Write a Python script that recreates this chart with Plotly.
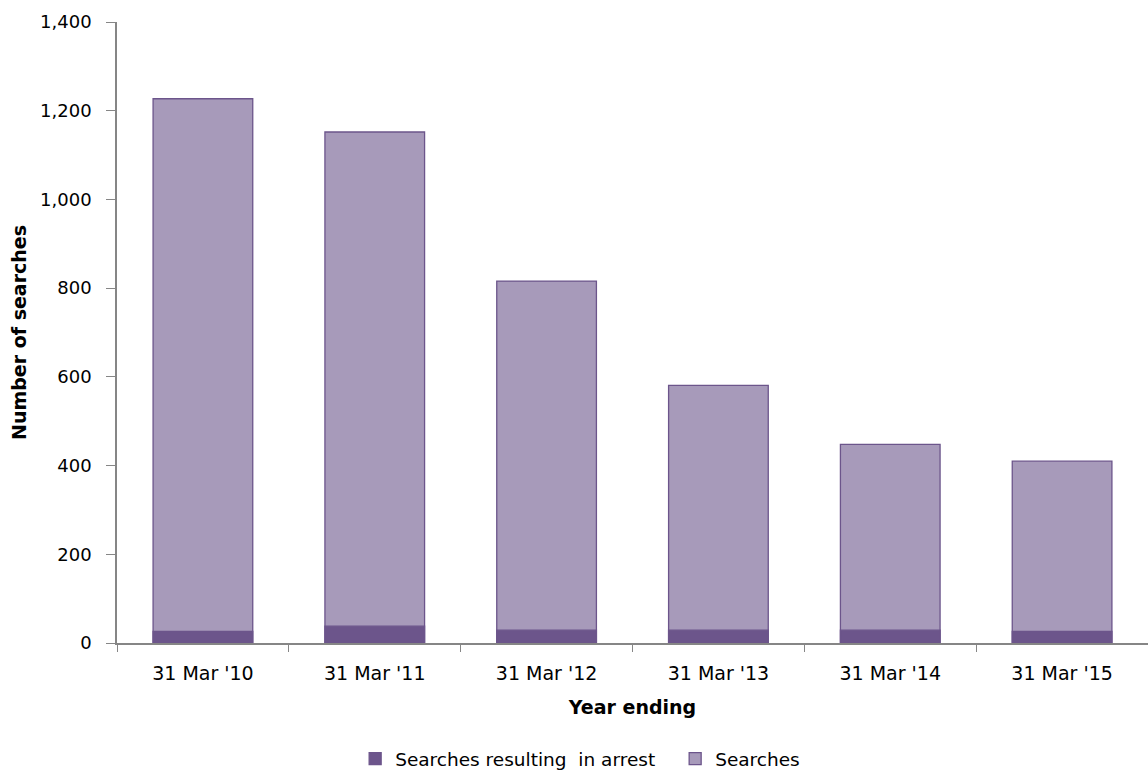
import plotly.graph_objects as go

# Stop and search figures by year ending
years = ["31 Mar '10", "31 Mar '11", "31 Mar '12", "31 Mar '13", "31 Mar '14", "31 Mar '15"]
searches = [1227, 1152, 816, 581, 448, 410]
arrests = [26, 38, 29, 29, 29, 26]

y_ticks = [0, 200, 400, 600, 800, 1000, 1200, 1400]

LIGHT = "#A79ABA"
DARK = "#6C558B"
AXIS = "#868686"
FONT = "DejaVu Sans"

fig = go.Figure()

# Total searches drawn first so the arrest bars sit on top
fig.add_trace(go.Bar(
    x=years, y=searches, name="Searches",
    marker=dict(color=LIGHT, line=dict(color=DARK, width=1.3)),
    legendrank=2,
))
fig.add_trace(go.Bar(
    x=years, y=arrests, name="Searches resulting  in arrest",
    marker=dict(color=DARK, line=dict(color=DARK, width=1.3)),
    legendrank=1,
))

fig.update_layout(
    width=1148, height=778,
    barmode="overlay",
    bargap=0.42,
    paper_bgcolor="white",
    plot_bgcolor="white",
    margin=dict(l=117, r=0, t=22, b=135, autoexpand=False),
    font=dict(family=FONT, size=18, color="#000000"),
    showlegend=True,
    legend=dict(
        orientation="h",
        x=0.231, xanchor="left",
        yref="container", y=0.0, yanchor="bottom",
        font=dict(family=FONT, size=18.5, color="#000000"),
        itemwidth=30,
        entrywidth=275,
        traceorder="normal",
    ),
    xaxis=dict(
        type="category",
        automargin=False,
        showline=True, linecolor=AXIS, linewidth=1.5,
        ticks="outside", tickson="boundaries", ticklen=7, tickcolor=AXIS, tickwidth=1,
        showgrid=False,
        ticklabelstandoff=12,
        tickfont=dict(family=FONT, size=19),
        title=dict(text="<b>Year ending</b>", font=dict(family=FONT, size=19), standoff=18),
    ),
    yaxis=dict(
        range=[0, 1400],
        automargin=False,
        tickvals=y_ticks, tickformat=",",
        showline=True, linecolor=AXIS, linewidth=1.5,
        ticks="outside", ticklen=9, tickcolor=AXIS, tickwidth=1,
        showgrid=False, zeroline=False,
        ticklabelstandoff=11,
        tickfont=dict(family=FONT, size=18),
        title=dict(text="<b>Number of searches</b>", font=dict(family=FONT, size=19), standoff=8),
    ),
)

fig.write_html("out.html")
